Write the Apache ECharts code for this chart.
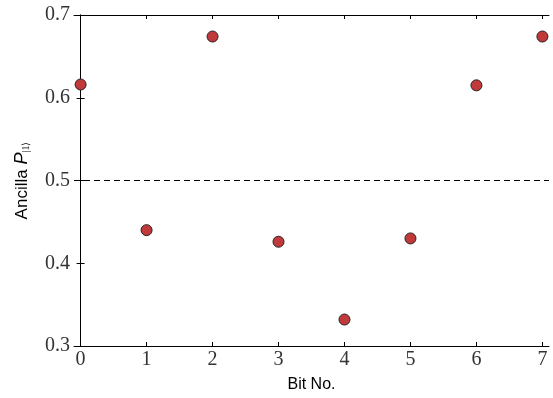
<!DOCTYPE html>
<html>
<head>
<meta charset="utf-8">
<script src="https://cdn.jsdelivr.net/npm/echarts@6/dist/echarts.min.js"></script>
<style>html,body{margin:0;padding:0;background:#fff;}#c{width:553px;height:398px;}</style>
</head>
<body>
<div id="c"></div>
<script>
const bits = [0, 1, 2, 3, 4, 5, 6, 7];
const ancillaP = [0.616, 0.440, 0.674, 0.426, 0.332, 0.430, 0.615, 0.674];
const xTicks = [0, 1, 2, 3, 4, 5, 6, 7];
const yTicks = [0.3, 0.4, 0.5, 0.6, 0.7];
const threshold = 0.5;

const chart = echarts.init(document.getElementById('c'));
const serif = 'Liberation Serif';
const sans = 'Liberation Sans';
const axisLine = {show: true, lineStyle: {color: '#000', width: 1}};
const tick = {show: true, inside: true, length: 4, lineStyle: {color: '#000', width: 1}};

chart.setOption({
  animation: false,
  backgroundColor: '#fff',
  grid: {left: 74, right: 4, top: 15, bottom: 50, containLabel: false},
  xAxis: [
    {
      type: 'value', min: -0.1, max: 7.1, position: 'bottom',
      name: 'Bit No.', nameLocation: 'middle', nameGap: 31,
      nameTextStyle: {fontFamily: sans, fontSize: 16, color: '#000'},
      axisLine: axisLine,
      axisTick: Object.assign({}, tick, {customValues: xTicks}),
      axisLabel: {customValues: xTicks, fontFamily: serif, fontSize: 20, color: '#333', margin: 4},
      splitLine: {show: false}
    },
    {
      type: 'value', min: -0.1, max: 7.1, position: 'top',
      axisLine: axisLine,
      axisTick: Object.assign({}, tick, {customValues: xTicks}),
      axisLabel: {show: false},
      splitLine: {show: false}
    }
  ],
  yAxis: [
    {
      type: 'value', min: 0.3, max: 0.7, position: 'left',
      name: '{n|Ancilla }{p|P}{s||1⟩}', nameLocation: 'middle', nameGap: 43, nameRotate: 90,
      nameTextStyle: {
        rich: {
          n: {fontFamily: sans, fontSize: 17, color: '#000'},
          p: {fontFamily: sans, fontSize: 18, fontStyle: 'italic', color: '#000'},
          s: {fontFamily: serif, fontSize: 10, color: '#000', padding: [8, 0, 0, 0]}
        }
      },
      axisLine: axisLine,
      axisTick: Object.assign({}, tick, {customValues: yTicks}),
      axisLabel: {customValues: yTicks, fontFamily: serif, fontSize: 20, color: '#333', margin: 4,
        formatter: v => v.toFixed(1)},
      splitLine: {show: false}
    },
    {
      type: 'value', min: 0.3, max: 0.7, position: 'right',
      axisLine: axisLine,
      axisTick: Object.assign({}, tick, {customValues: yTicks}),
      axisLabel: {show: false},
      splitLine: {show: false}
    }
  ],
  series: [{
    type: 'scatter',
    xAxisIndex: 0, yAxisIndex: 0,
    data: bits.map((b, i) => [b, ancillaP[i]]),
    symbol: 'circle', symbolSize: 11,
    itemStyle: {color: '#c0393b', borderColor: '#222', borderWidth: 1, opacity: 1},
    markLine: {
      silent: true, symbol: ['none', 'none'], label: {show: false},
      lineStyle: {color: '#000', type: [6, 4], width: 1},
      data: [{yAxis: threshold}]
    },
    z: 3
  }]
});
</script>
</body>
</html>
